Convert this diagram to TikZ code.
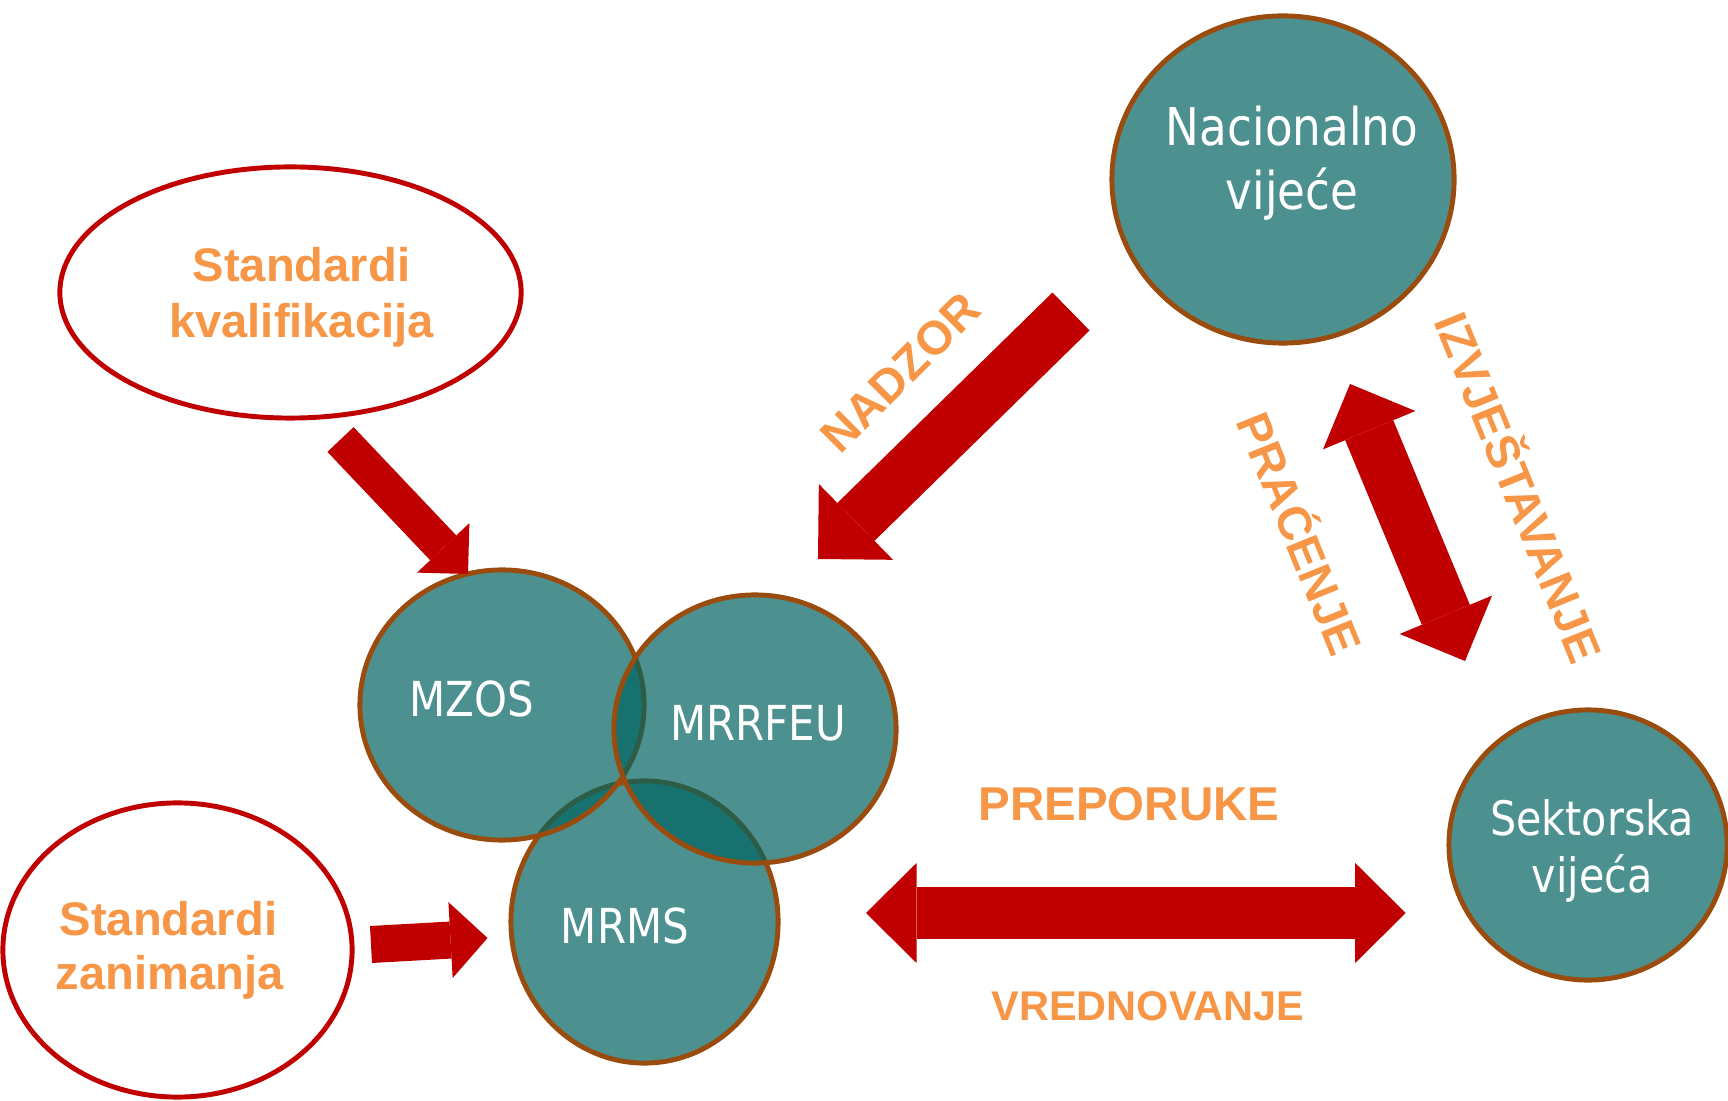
\documentclass[tikz,border=0pt]{standalone}
\usepackage{fontspec}
\setmainfont{Liberation Sans}
\newfontfamily\krugfont{DejaVu Sans}[FakeStretch=0.87]
\usetikzlibrary{shapes.geometric,arrows.meta}
\definecolor{tirkiz}{RGB}{0,99,96}
\definecolor{smeda}{RGB}{153,76,13}
\definecolor{crvena}{RGB}{192,0,0}
\definecolor{narancasta}{RGB}{247,150,70}

\begin{document}
\begin{tikzpicture}[x=0.01cm, y=-0.01cm]
\tikzset{krug/.style={ellipse, draw=smeda, line width=1.4pt, fill=tirkiz, fill opacity=0.7, inner sep=0pt},
  oval/.style={ellipse, draw=crvena, line width=1.4pt, fill=white, inner sep=0pt},
  bijeli/.style={anchor=base, text=white, inner sep=0pt, font=\krugfont\fontsize{13.7pt}{16pt}\selectfont},
  narancast/.style={anchor=base, text=narancasta, inner sep=0pt, font=\bfseries\fontsize{13.4pt}{16pt}\selectfont},
  blok/.style n args={3}{draw=crvena, line width=#1, -{Triangle[length=#2, width=#3, line width=0pt]}},
  dblok/.style n args={3}{draw=crvena, line width=#1, {Triangle[length=#2, width=#3, line width=0pt]}-{Triangle[length=#2, width=#3, line width=0pt]}}}
\useasboundingbox (0,0) rectangle (1728,1101);
% tri ministarstva
\node[krug, minimum width=2.67cm, minimum height=2.82cm] (MRMS) at (644.5,922) {};
\node[krug, minimum width=2.84cm, minimum height=2.70cm] (MZOS) at (502,705) {};
\node[krug, minimum width=2.82cm, minimum height=2.68cm] (MRRFEU) at (755,729) {};
\node[krug, minimum width=3.42cm, minimum height=3.27cm] (NV) at (1283,179.5) {};
\node[krug, minimum width=2.78cm, minimum height=2.70cm] (SV) at (1588,845) {};
\node[oval, minimum width=4.61cm, minimum height=2.51cm] (SK) at (290.5,292.5) {};
\node[oval, minimum width=3.49cm, minimum height=2.94cm] (SZ) at (177.5,950) {};
% strelice
\coordinate (A1) at (340.5,439.5);
\coordinate (A2) at (468,574);
\coordinate (B1) at (1071,311.5);
\coordinate (B2) at (818,559);
\coordinate (C1) at (371,944.5);
\coordinate (C2) at (487.5,938);
\coordinate (D1) at (866,913);
\coordinate (D2) at (1405.7,913);
\coordinate (E1) at (1350,384);
\coordinate (E2) at (1465,661);
\draw[blok={0.36cm}{0.36cm}{0.72cm}] (A1) -- (A2);
\draw[blok={0.53cm}{0.53cm}{1.06cm}] (B1) -- (B2);
\draw[blok={0.37cm}{0.37cm}{0.76cm}] (C1) -- (C2);
\draw[dblok={0.51cm}{0.505cm}{1.0cm}] (D1) -- (D2);
\draw[dblok={0.52cm}{0.50cm}{1.0cm}] (E1) -- (E2);
% tekst u krugovima
\node[bijeli] (tMZOS) at (472,717) {MZOS};
\node[bijeli] (tMRRFEU) at (758,741) {MRRFEU};
\node[bijeli] (tMRMS) at (625,943) {MRMS};
\node[bijeli, font=\krugfont\fontsize{14.8pt}{18pt}\selectfont] (tNV1) at (1292,146) {Nacionalno};
\node[bijeli, font=\krugfont\fontsize{14.8pt}{18pt}\selectfont] (tNV2) at (1292,210) {vijeće};
\node[bijeli, font=\krugfont\fontsize{13.5pt}{16pt}\selectfont] (tSV1) at (1592,835) {Sektorska};
\node[bijeli, font=\krugfont\fontsize{13.5pt}{16pt}\selectfont] (tSV2) at (1592,892) {vijeća};
% narancasti natpisi
\node[narancast] (tSK1) at (301.5,282) {Standardi};
\node[narancast] (tSK2) at (301.5,338) {kvalifikacija};
\node[narancast] (tSZ1) at (168.5,935) {Standardi};
\node[narancast] (tSZ2) at (169.5,989) {zanimanja};
\node[narancast, font=\bfseries\fontsize{13.5pt}{16pt}\selectfont] (tPR) at (1129,820) {PREPORUKE};
\node[narancast, font=\bfseries\fontsize{11.8pt}{14pt}\selectfont] (tVR) at (1148,1020) {VREDNOVANJE};
\node[narancast, rotate=45] (tNA) at (912,384) {NADZOR};
\node[narancast, rotate=-68] (tPC) at (1284,540) {PRAĆENJE};
\node[narancast, rotate=-68] (tIZ) at (1503,494) {IZVJEŠTAVANJE};
\end{tikzpicture}
\end{document}
